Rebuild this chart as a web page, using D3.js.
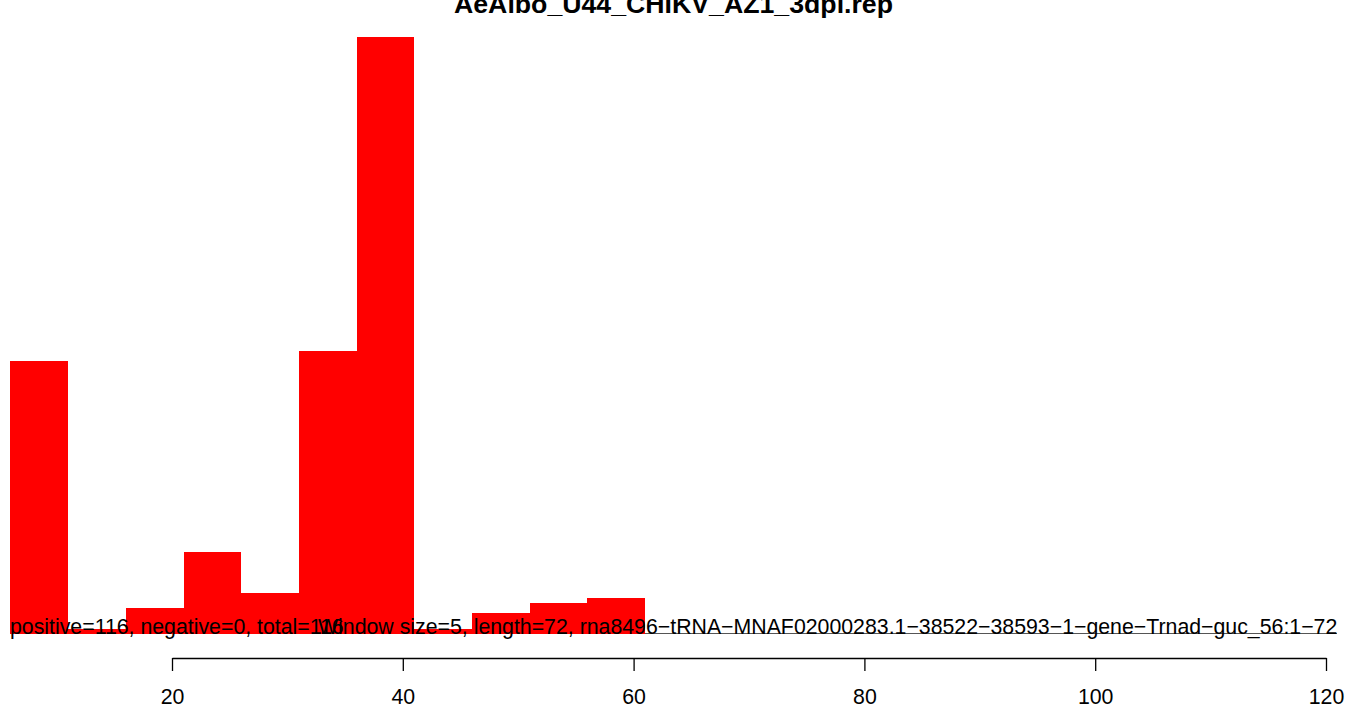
<!DOCTYPE html>
<html>
<head>
<meta charset="utf-8">
<script src="https://cdn.jsdelivr.net/npm/d3@7/dist/d3.min.js"></script>
<style>
  html, body { margin: 0; padding: 0; background: #ffffff; }
  svg { display: block; }
  text { font-family: "Liberation Sans", Arial, Helvetica, sans-serif; fill: #000; }
</style>
</head>
<body>
<svg id="chart" width="1347" height="709"></svg>
<script>
// ---- data ----
const title = "AeAlbo_U44_CHIKV_AZ1_3dpi.rep";
const windowStarts = [6, 11, 16, 21, 26, 31, 36, 41, 46, 51, 56];
const windowSize = 5;
const positiveCounts = [53, 1, 5, 16, 8, 55, 116, 1, 4, 6, 7];
const xTicks = [20, 40, 60, 80, 100, 120];
const infoLeft = "positive=116, negative=0, total=116";
const infoRight = "Window size=5, length=72, rna8496\u2212tRNA\u2212MNAF02000283.1\u221238522\u221238593\u22121\u2212gene\u2212Trnad\u2212guc_56:1\u221272";

// ---- layout ----
const svg = d3.select("#chart");
const x = d3.scaleLinear().domain([20, 120]).range([172, 1326]);
const y = d3.scaleLinear().domain([0, 116]).range([634, 37]);

// baseline line
svg.append("line")
  .attr("x1", 10).attr("x2", 1337)
  .attr("y1", 633.5).attr("y2", 633.5)
  .attr("stroke", "#555").attr("stroke-width", 1);

// bars
svg.append("g").selectAll("rect")
  .data(windowStarts.map((s, i) => ({ s, v: positiveCounts[i] })))
  .join("rect")
  .attr("x", d => x(d.s))
  .attr("width", d => x(d.s + windowSize) - x(d.s))
  .attr("y", d => y(d.v))
  .attr("height", d => y(0) - y(d.v))
  .attr("fill", "#ff0000")
  .attr("shape-rendering", "crispEdges");

// info texts
svg.append("text")
  .attr("x", 10).attr("y", 634)
  .attr("font-size", 21.3)
  .text(infoLeft);
svg.append("text")
  .attr("x", 318).attr("y", 634)
  .attr("font-size", 21.3)
  .text(infoRight);

// x axis
const axis = d3.axisBottom(x).tickValues(xTicks).tickSize(13).tickPadding(18).tickSizeOuter(0);
const gx = svg.append("g").attr("transform", "translate(0,658)").call(axis);
gx.select(".domain").attr("stroke", "#000").attr("stroke-width", 1.3);
gx.selectAll(".tick line").attr("stroke", "#000").attr("stroke-width", 1.3);
gx.selectAll(".tick text")
  .attr("font-size", 21.3)
  .attr("font-family", "Liberation Sans, Arial, sans-serif")
  .attr("fill", "#000");

// title
svg.append("text")
  .attr("x", 673.5).attr("y", 13)
  .attr("text-anchor", "middle")
  .attr("font-size", 26.7)
  .attr("font-weight", "bold")
  .text(title);
</script>
</body>
</html>
